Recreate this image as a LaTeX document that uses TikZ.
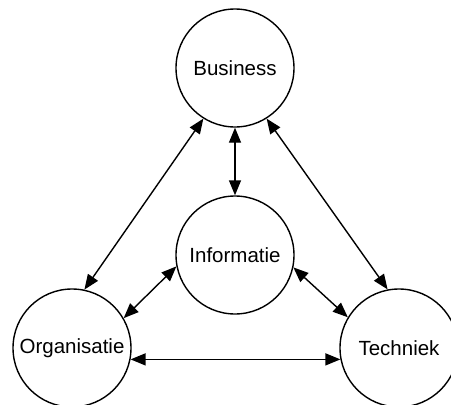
\documentclass[tikz,border=0pt]{standalone}
\usepackage{fontspec}
\setmainfont{Liberation Sans}
\usetikzlibrary{arrows.meta}
\begin{document}
\begin{tikzpicture}[x=1pt,y=-1pt,
  blob/.style={draw,circle,line width=1.4pt,minimum size=118pt,inner sep=0pt,font=\fontsize{20.5}{24}\selectfont},
  link/.style={line width=1.4pt,{Triangle[length=15pt,width=12pt]}-{Triangle[length=15pt,width=12pt]}}]
\clip (0,0) rectangle (451,405);
\useasboundingbox (0,0) rectangle (451,405);
\node[blob] (bus) at (235,68) {Business};
\node[blob] (inf) at (235,255) {Informatie};
\node[blob] (org) at (72,348) {Organisatie};
\node[blob] (tec) at (399,348) {Techniek};
\draw[link] (bus.238) -- (org.78);
\draw[link] (bus.302) -- (tec.101.5);
\draw[link] (bus.south) -- (inf.north);
\draw[link] (inf.191.7) -- (org.30.7);
\draw[link] (inf.348.7) -- (tec.149.3);
\draw[link] (org.-11.5) -- (tec.191.5);
\end{tikzpicture}
\end{document}
